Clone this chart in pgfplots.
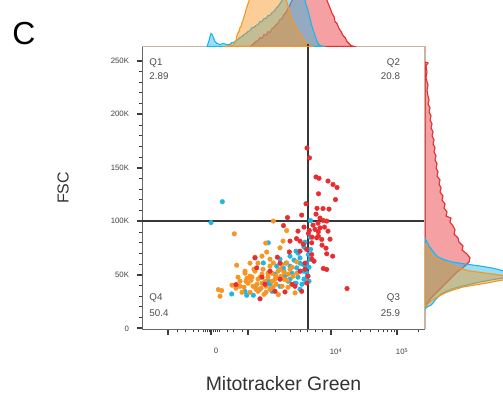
\documentclass[border=0pt]{standalone}
\usepackage{pgfplots}
\pgfplotsset{compat=1.18}
\usepackage{fontspec}
\setmainfont{Liberation Sans}
\definecolor{cred}{RGB}{232,44,48}
\definecolor{ccyan}{RGB}{28,182,232}
\definecolor{corange}{RGB}{246,150,36}
\definecolor{ctan}{RGB}{205,178,160}
\definecolor{cgate}{RGB}{55,55,55}
\definecolor{ctick}{RGB}{60,60,60}

\pgfplotstableread{
x y
81.3 118.3
70 98.8
169.5 100.7
127.3 79.9
169.7 73.7
149 67.4
159 65.8
167.3 69.0
122.3 61.1
135.7 58.1
142.3 56.5
149 58.1
155.7 56.5
162.3 59.6
165.7 61.1
159 53.4
165.7 51.8
90.7 32.1
105.7 30.9
112.3 30.9
151 51.5
157 47.8
163 45.9
147 44.0
154 42.1
161 41.2
144 48.7
165 57.1
139 39.3
129 41.2
119 36.5
159 60.9
169 64.6
153 63.7
155 72.1
163 75.8
143 53.4
134 50.6
127 44.0
114 39.3
104 34.6
159 36.5
168 44.0
168 57.1
149 45.9
155 42.1
162 53.4
166 47.8
145 60.9
139 64.6
157 70.2
164 80.5
169 85.2
131 34.6
}\cyanpts

\pgfplotstableread{
x y
132.3 100.2
145.7 91.3
93.3 88.3
124.7 79.6
139 75.2
125.7 71.3
95.7 59.0
132.3 61.1
140.7 59.6
145.7 61.1
155.7 62.1
77.3 36.2
80.7 35.3
79 30.0
137.3 31.5
154 33.1
104 51.5
109 48.7
114 53.4
117 45.9
121 50.6
124 44.0
127 47.8
131 51.5
134 45.9
137 53.4
140 48.7
143 52.4
146 44.9
107 42.1
112 39.3
116 41.2
120 37.5
125 39.3
129 36.5
103 38.4
99 44.0
110 44.9
122 55.2
129 58.1
135 41.2
141 39.3
119 47.8
113 55.2
106 46.8
149 55.2
152 48.7
147 38.4
125 33.7
117 34.6
101 33.7
95 37.5
132 38.4
114 66.5
142 81.5
121 67.4
109 60.9
99 39.3
105 44.0
111 47.8
115 36.5
121 42.1
127 51.5
131 44.0
135 48.7
139 55.2
143 45.9
123 31.8
109 33.7
97 47.8
147 50.6
151 57.1
156 51.5
117 60.9
104 53.4
129 64.6
91 40.3
}\orangepts

\pgfplotstableread{
x y
166 168.5
168.5 159.2
175 141.4
178 140.2
187 137.6
192 134.4
196 131.6
177.5 125.7
194.5 120.3
165 116.4
176 112.1
182 111.9
188 111.4
160.7 105.8
146.5 103.5
182.3 100.7
185.7 100.2
142.5 96.0
174 92.4
179 93.9
183.5 94.6
168.3 91.5
155.5 83.8
159 81.5
175.7 84.6
177.3 86.1
189 83.3
180.7 83.1
170.7 79.9
162.3 78.4
149 81.5
165.7 73.7
148.3 71.4
170.7 69.0
185.7 69.6
191.7 67.4
114 65.8
136.3 66.5
115.7 56.5
129 53.4
182.3 55.9
185.7 55.0
95 40.9
206 37.2
119 27.6
134 34.6
144 34.0
160.7 34.6
165.7 42.4
167.3 88.6
177.3 90.2
164 60.9
171 64.6
159 53.4
167 48.7
154 39.3
139 45.9
124 41.2
175 106.7
179 103.0
172 96.4
177 98.3
187 90.8
171 85.2
181 77.7
185 74.9
163 94.6
157 90.8
159 72.1
173 62.7
164 55.2
139 60.9
121 47.8
151 41.2
}\redpts

\begin{document}
\begin{tikzpicture}[x=1bp,y=1bp]
\useasboundingbox (0,0) rectangle (503,398);

% ---------- main scatter ----------
\begin{axis}[
  at={(142bp,68.6bp)}, anchor=south west,
  scale only axis, width=283bp, height=282.9bp,
  xmin=1, xmax=284, ymin=-1, ymax=263.3,
  axis x line*=bottom, axis y line*=left,
  axis line style={draw=black!60, line width=0.8bp},
  tick align=outside,
  major tick length=5.5bp, minor tick length=3bp,
  every major tick/.style={ctick, line width=1.7bp},
  every minor tick/.style={ctick, line width=0.9bp},
  xtick={27,70,107,190,256},
  xticklabels={,0,,10\textsuperscript{4},10\textsuperscript{5}},
  minor xtick={36,44,52,57,62,64,66,68,72,74,76,78,86,92,101,134,149,159,166,174,181,211,219,229,237,242,246,250,253,277},
  ytick={0,50,100,150,200,250},
  yticklabels={0,50K,100K,150K,200K,250K},
  minor y tick num=4,
  tick label style={font=\fontsize{7.8}{8}\selectfont, text=black!75},
  xticklabel style={xshift=5bp, yshift=-10bp},
  yticklabel style={xshift=-4bp},
  xlabel={Mitotracker Green},
  ylabel={FSC},
  xlabel style={at={(axis description cs:0.5,-0.193)}, anchor=center, font=\fontsize{19.5}{20}\selectfont, text=black!80},
  ylabel style={at={(axis description cs:-0.279,0.5)}, anchor=center, font=\fontsize{16}{17}\selectfont, text=black!80},
  clip=true,
]
\draw[cgate, line width=1.6bp] (167,-1) -- (167,263.3);
\draw[cgate, line width=1.6bp] (1,100) -- (284,100);
\addplot[only marks, mark=*, mark size=2.3bp, ccyan, mark options={draw=ccyan, fill=ccyan}] table {\cyanpts};
\addplot[only marks, mark=*, mark size=2.3bp, corange, mark options={draw=corange, fill=corange}] table {\orangepts};
\addplot[only marks, mark=*, mark size=2.3bp, cred, mark options={draw=cred, fill=cred}] table {\redpts};
\node[anchor=west, font=\fontsize{9.8}{10}\selectfont, text=black!70] at (rel axis cs:0.014,0.941) {Q1};
\node[anchor=west, font=\fontsize{9.8}{10}\selectfont, text=black!70] at (rel axis cs:0.014,0.895) {2.89};
\node[anchor=east, font=\fontsize{9.8}{10}\selectfont, text=black!70] at (rel axis cs:0.924,0.941) {Q2};
\node[anchor=east, font=\fontsize{9.8}{10}\selectfont, text=black!70] at (rel axis cs:0.924,0.895) {20.8};
\node[anchor=west, font=\fontsize{9.8}{10}\selectfont, text=black!70] at (rel axis cs:0.014,0.111) {Q4};
\node[anchor=west, font=\fontsize{9.8}{10}\selectfont, text=black!70] at (rel axis cs:0.014,0.058) {50.4};
\node[anchor=east, font=\fontsize{9.8}{10}\selectfont, text=black!70] at (rel axis cs:0.924,0.111) {Q3};
\node[anchor=east, font=\fontsize{9.8}{10}\selectfont, text=black!70] at (rel axis cs:0.924,0.058) {25.9};
\end{axis}

% ---------- top histogram ----------
\begin{axis}[
  at={(142bp,351.5bp)}, anchor=south west,
  scale only axis, width=283bp, height=46.5bp,
  xmin=142, xmax=425, ymin=0, ymax=46.5,
  axis x line*=bottom, axis y line=none,
  axis line style={draw=ctan, line width=1.2bp},
  xtick=\empty, ytick=\empty,
  clip=true,
]
\addplot[draw=cred, line width=1.1bp, fill=cred, fill opacity=0.45] coordinates {
(250,0)(254,3)(256,5)(258,6)(260,9)(262,8)(264,12)(266,11)(268,15)(270,14)(272,18)(274,19)(276,22)(278,23)(280,27)(282,28)(284,32)(286,34)(288,38)(290,42)(292,46)(294,50)(300,60)(310,72)(320,66)(324,55)(326,48)(327,46)(329,41)(331,36)(332,33)(334,30)(335,25)(337,23)(339,18)(341,15)(343,11)(345,9)(347,5)(349,3)(351,1)(354,0)
} -- cycle;
\addplot[draw=ccyan, line width=1.1bp, fill=ccyan, fill opacity=0.45] coordinates {
(207,0)(209,6)(210,10)(211,13)(212,12)(213,10)(215,5)(217,3)(220,2)(223,3)(226,2)(230,2)(232,4)(234,4)(236,6)(238,7)(240,9)(242,10)(244,12)(246,13)(248,15)(250,16)(252,19)(254,19)(256,21)(258,22)(260,25)(262,25)(264,28)(266,28)(268,31)(270,31)(272,34)(274,35)(276,38)(278,40)(280,43)(282,46)(290,58)(300,62)(304,50)(305,46)(306,42)(308,36)(310,28)(311,24)(312,20)(314,14)(316,8)(318,3)(320,1)(323,0)
} -- cycle;
\addplot[draw=corange, line width=1.1bp, fill=corange, fill opacity=0.47] coordinates {
(226,0)(230,1)(233,1)(234,3)(236,6)(237,11)(238,14)(239,15)(240,19)(241,20)(242,24)(243,26)(244,30)(245,33)(246,37)(247,40)(248,43)(250,48)(255,60)(270,82)(282,62)(285,50)(287,44)(288,40)(289,36)(290,33)(291,30)(292,27)(293,25)(295,20)(296,19)(297,17)(299,14)(300,13)(301,11)(303,8)(305,5)(307,3)(309,1)(312,0)
} -- cycle;
\draw[cgate, line width=1.6bp] (308,0) -- (308,2.5);
\end{axis}

% ---------- right histogram ----------
\begin{axis}[
  at={(425bp,68.6bp)}, anchor=south west,
  scale only axis, width=78bp, height=282.9bp,
  xmin=0, xmax=78, ymin=68.6, ymax=351.5,
  axis y line*=left, axis x line=none,
  axis line style={draw=ctan, line width=1.2bp},
  xtick=\empty, ytick=\empty,
  clip=true,
]
\addplot[draw=cred, line width=1.1bp, fill=cred, fill opacity=0.45] coordinates {
(0,336)(3,335)(1,332)(2,326)(1,320)(3,313)(2,308)(3,302)(4,298)(3,294)(5,290)(4,286)(6,282)(5,278)(7,274)(6,270)(8,266)(7,262)(9,258)(8,254)(10,250)(9,246)(11,242)(10,238)(12,234)(11,230)(13,226)(12,222)(15,218)(14,214)(16,210)(15,206)(18,202)(17,198)(20,194)(19,190)(22,186)(21,182)(26,180)(25,176)(28,172)(30,168)(29,164)(33,160)(34,156)(38,152)(37,148)(42,144)(45,140)(44,136)(40,132)(32,126)(24,118)(14,108)(6,100)(2,94)(0,90)
} -- cycle;
\addplot[draw=ccyan, line width=1.1bp, fill=ccyan, fill opacity=0.45] coordinates {
(0,160)(2,156)(4,152)(7,148)(10,144)(13,141)(20,138)(27,136)(40,134)(55,132)(67,130)(75,128)(82,126)(88,124)(85,122)(78,120)(66,118)(55,116)(42,113)(30,110)(22,107)(16,104)(13,101)(10,98)(8,95)(6,93)(2,91)(0,89)
} -- cycle;
\addplot[draw=corange, line width=1.1bp, fill=corange, fill opacity=0.47] coordinates {
(0,154)(3,150)(5,146)(7,142)(12,139)(18,136)(25,133)(33,130)(45,127)(60,125)(75,123)(86,121)(84,119)(72,117)(62,115)(50,113)(38,111)(28,108)(20,105)(14,102)(9,99)(5,96)(2,93)(0,91)
} -- cycle;
\end{axis}

\node[font=\fontsize{32}{32}\selectfont] at (24,364.5) {C};
\end{tikzpicture}
\end{document}
